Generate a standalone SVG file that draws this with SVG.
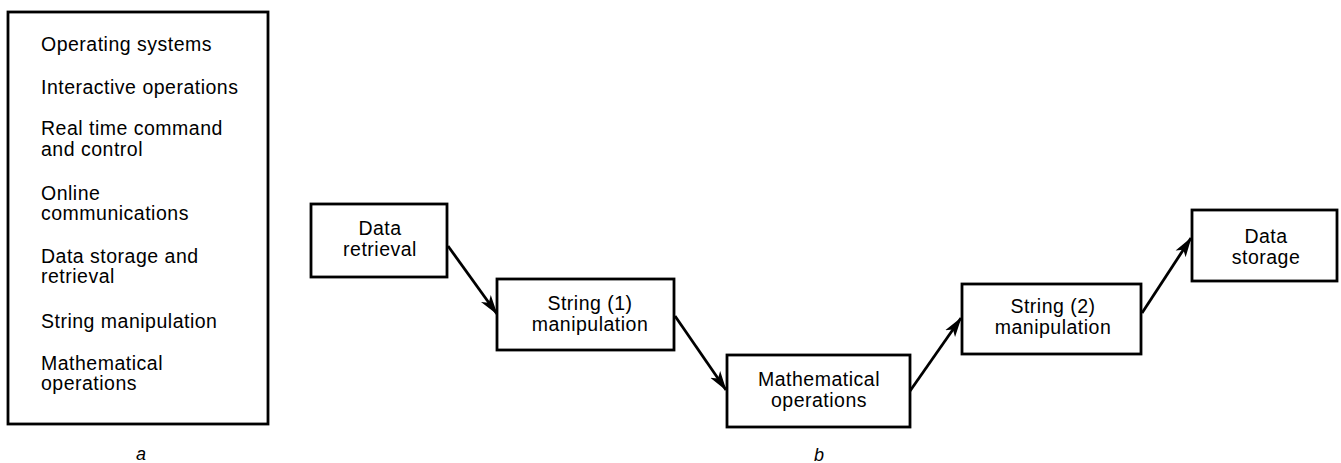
<svg xmlns="http://www.w3.org/2000/svg" width="1341" height="463" viewBox="0 0 1341 463">
<style>
text{font-family:"Liberation Sans",Arial,sans-serif;font-size:19.5px;letter-spacing:0.5px;fill:#000}
.box{fill:#fff;stroke:#000;stroke-width:2.8}
.c{text-anchor:middle}
.conn{stroke:#000;stroke-width:2.8;fill:none;marker-end:url(#ah)}
.cap{font-style:italic;font-size:18px;letter-spacing:0}
</style>
<defs>
<marker id="ah" markerWidth="20" markerHeight="13" refX="19" refY="6.5" orient="auto" markerUnits="userSpaceOnUse">
<path d="M0,0.5 L20,6.5 L0,12.5 L5,6.5 Z" fill="#000"/>
</marker>
</defs>
<g id="list">
<rect class="box" x="8" y="12" width="260" height="412"/>
<text x="41" y="51">Operating systems</text>
<text x="41" y="94">Interactive operations</text>
<text x="41" y="135">Real time command</text>
<text x="41" y="156">and control</text>
<text x="41" y="200">Online</text>
<text x="41" y="220">communications</text>
<text x="41" y="263">Data storage and</text>
<text x="41" y="283">retrieval</text>
<text x="41" y="328">String manipulation</text>
<text x="41" y="370">Mathematical</text>
<text x="41" y="390">operations</text>
</g>
<text class="cap" x="136" y="460">a</text>
<g id="n1">
<rect class="box" x="311" y="204" width="136" height="73"/>
<text class="c" x="380" y="235">Data</text>
<text class="c" x="380" y="256">retrieval</text>
</g>
<g id="n2">
<rect class="box" x="497" y="279" width="177" height="71"/>
<text class="c" x="590" y="310">String (1)</text>
<text class="c" x="590" y="331">manipulation</text>
</g>
<g id="n3">
<rect class="box" x="727" y="355" width="183" height="72"/>
<text class="c" x="819" y="386">Mathematical</text>
<text class="c" x="819" y="407">operations</text>
</g>
<g id="n4">
<rect class="box" x="962" y="284" width="179" height="70"/>
<text class="c" x="1053" y="313">String (2)</text>
<text class="c" x="1053" y="334">manipulation</text>
</g>
<g id="n5">
<rect class="box" x="1192" y="210" width="145" height="71"/>
<text class="c" x="1266" y="243">Data</text>
<text class="c" x="1266" y="264">storage</text>
</g>
<text class="cap" x="814" y="461">b</text>
<g id="connectors">
<line class="conn" x1="448" y1="246" x2="497" y2="314"/>
<line class="conn" x1="675" y1="316" x2="726" y2="390"/>
<line class="conn" x1="910" y1="391" x2="961" y2="318"/>
<line class="conn" x1="1142" y1="313" x2="1191" y2="238"/>
</g>
</svg>
